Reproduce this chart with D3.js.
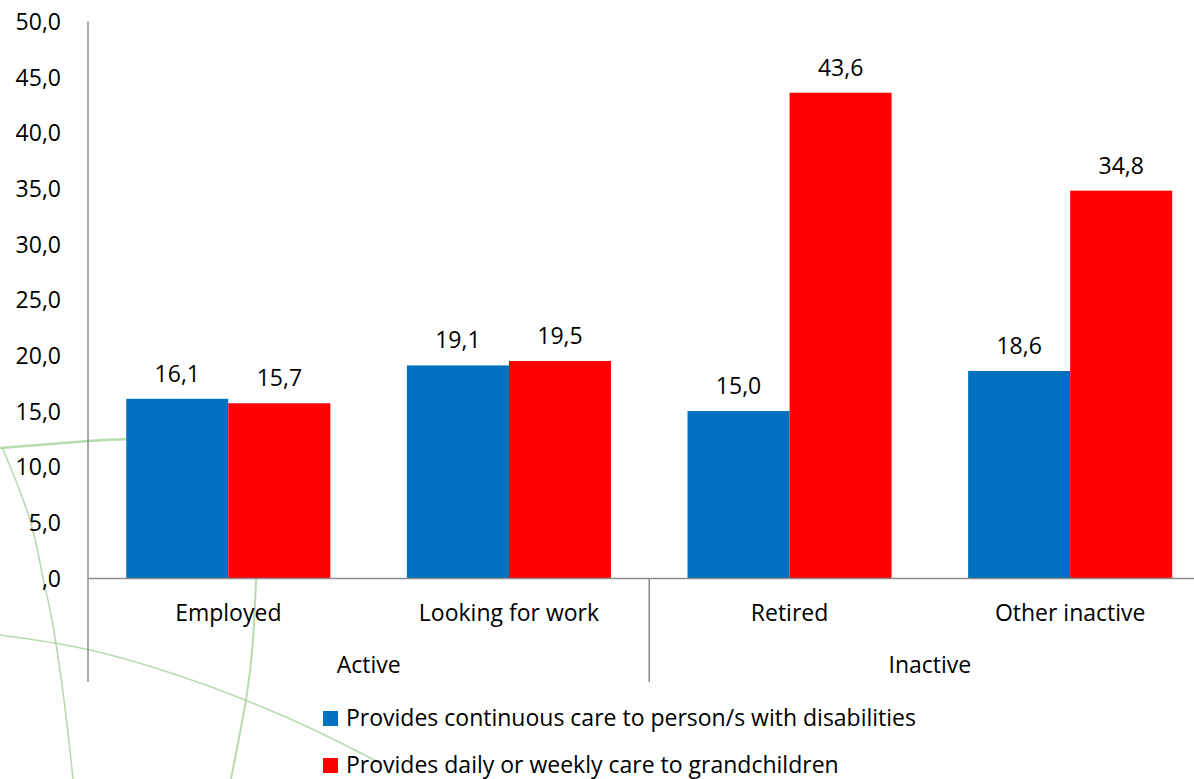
<!DOCTYPE html>
<html>
<head>
<meta charset="utf-8">
<script src="https://cdn.jsdelivr.net/npm/d3@7"></script>
<style>
  html, body { margin: 0; padding: 0; background: #fff; }
  svg { display: block; font-family: "Open Sans", Lato, sans-serif; }
</style>
</head>
<body>
<svg id="chart" width="1194" height="779"></svg>
<script>
// ---- data ----
const categories = ["Employed", "Looking for work", "Retired", "Other inactive"];
const groupOf = ["Active", "Active", "Inactive", "Inactive"];
const groups = ["Active", "Inactive"];
const seriesNames = [
  "Provides continuous care to person/s with disabilities",
  "Provides daily or weekly care to grandchildren"
];
const disabilityCare = [16.1, 19.1, 15.0, 18.6];
const grandchildrenCare = [15.7, 19.5, 43.6, 34.8];
const yTicks = [0, 5, 10, 15, 20, 25, 30, 35, 40, 45, 50];
const seriesColors = ["#0070C0", "#FF0000"];

const fmt = v => {
  const s = v.toFixed(1).replace(".", ",");
  return s.startsWith("0,") ? s.slice(1) : s;
};

const FONT = "'Open Sans', Lato, sans-serif";
const svg = d3.select("#chart");
const fontSize = 23;

const x0 = d3.scaleBand().domain(categories).range([88, 1210.5]).paddingInner(0).paddingOuter(0);
const x1 = d3.scaleBand().domain([0, 1]).range([0, x0.bandwidth()]).paddingInner(0).paddingOuter(0.375);
const y = d3.scaleLinear().domain([0, 50]).range([578, 21.5]);

// ---- decorative background curves ----
const deco = svg.append("g").attr("fill", "none").attr("stroke", "#9fcf94").attr("stroke-opacity", 0.75);
const line = d3.line().curve(d3.curveNatural);
deco.append("path").attr("stroke-width", 2.5)
  .attr("d", line([[0, 448], [88, 441], [130, 439]]));
deco.append("path").attr("stroke-width", 1.6)
  .attr("d", line([[2, 447], [30, 520], [43, 578], [52, 620], [64, 700], [73, 779]]));
deco.append("path").attr("stroke-width", 2)
  .attr("d", line([[257, 560], [253, 640], [246, 700], [231, 779]]));
deco.append("path").attr("stroke-width", 1.6)
  .attr("d", line([[0, 635], [90, 650], [180, 676], [240, 698], [310, 728], [380, 763]]));

// ---- bars ----
const seriesData = [disabilityCare, grandchildrenCare];
seriesData.forEach((vals, si) => {
  const g = svg.append("g");
  g.selectAll("rect").data(vals).join("rect")
    .attr("x", (d, i) => x0(categories[i]) + x1(si))
    .attr("y", d => y(d))
    .attr("width", x1.bandwidth())
    .attr("height", d => y(0) - y(d))
    .attr("fill", seriesColors[si]);
  g.selectAll("text").data(vals).join("text")
    .attr("x", (d, i) => x0(categories[i]) + x1(si) + x1.bandwidth() / 2)
    .attr("y", d => y(d) - 17)
    .attr("text-anchor", "middle")
    .attr("font-size", fontSize)
    .attr("fill", "#000")
    .text(d => fmt(d));
});

// ---- y axis ----
const yAxis = d3.axisLeft(y).tickValues(yTicks).tickSize(0).tickPadding(27).tickFormat(fmt);
const ya = svg.append("g").attr("transform", "translate(88,0)").call(yAxis);
ya.select(".domain").remove();
ya.selectAll("text").attr("font-size", fontSize).attr("font-family", FONT).attr("fill", "#000").attr("dy", "0.35em");

const axisColor = "#8c8c8c";
svg.append("line").attr("x1", 88).attr("x2", 88).attr("y1", y(50)).attr("y2", 682)
  .attr("stroke", axisColor).attr("stroke-width", 1.5);

// ---- x axis ----
const xAxis = d3.axisBottom(x0).tickSize(0).tickPadding(0);
const xa = svg.append("g").attr("transform", `translate(0,${y(0)})`).call(xAxis);
xa.select(".domain").attr("stroke", axisColor).attr("stroke-width", 1.5);
xa.selectAll("text").attr("font-size", fontSize).attr("font-family", FONT)
  .attr("fill", "#000").attr("y", 43).attr("dy", 0);

// group labels and divider
groups.forEach(gname => {
  const idx = categories.filter((c, i) => groupOf[i] === gname);
  const left = x0(idx[0]);
  const right = x0(idx[idx.length - 1]) + x0.bandwidth();
  svg.append("text")
    .attr("x", (left + right) / 2).attr("y", 673)
    .attr("text-anchor", "middle").attr("font-size", fontSize).attr("fill", "#000")
    .text(gname);
  if (left > 88) {
    svg.append("line").attr("x1", left).attr("x2", left).attr("y1", y(0)).attr("y2", 682)
      .attr("stroke", axisColor).attr("stroke-width", 1.5);
  }
});

// ---- legend ----
const legend = svg.append("g").attr("transform", "translate(323,711)");
seriesNames.forEach((name, i) => {
  const row = legend.append("g").attr("transform", `translate(0,${i * 47})`);
  row.append("rect").attr("width", 15).attr("height", 15).attr("fill", seriesColors[i]);
  row.append("text").attr("x", 23).attr("y", 15).attr("font-size", fontSize).attr("fill", "#000").text(name);
});
</script>
</body>
</html>
